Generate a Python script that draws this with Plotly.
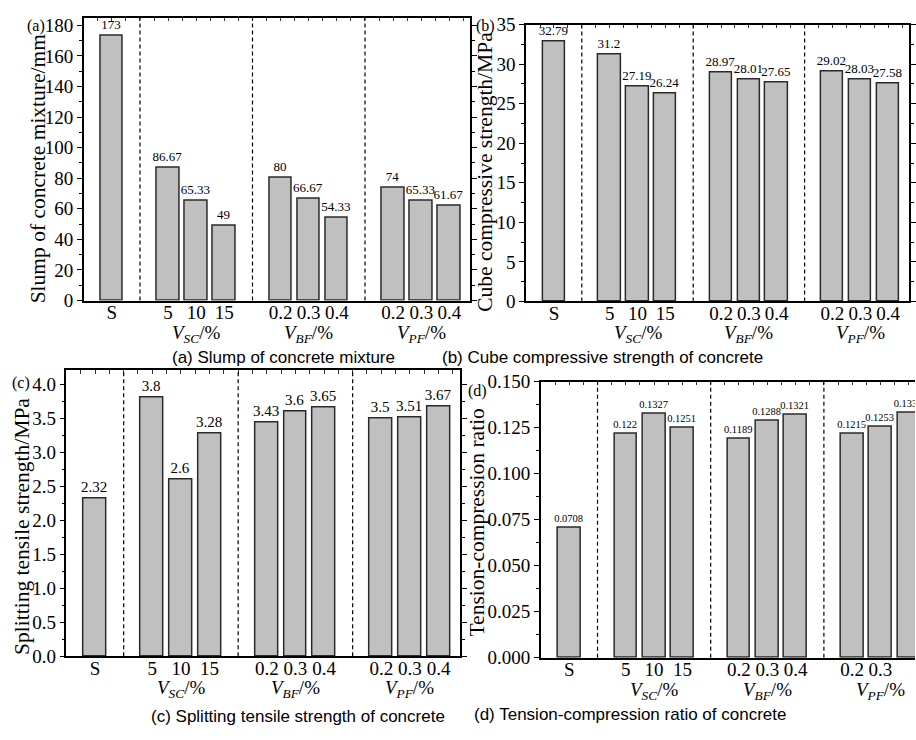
import plotly.graph_objects as go

# ---------------- data ----------------
control_label = ["S"]
sc_levels = ["5", "10", "15"]
bf_levels = ["0.2", "0.3", "0.4"]
pf_levels = ["0.2", "0.3", "0.4"]
group_titles = ["<i>V</i><sub><i>SC</i></sub>/%",
                "<i>V</i><sub><i>BF</i></sub>/%",
                "<i>V</i><sub><i>PF</i></sub>/%"]

slump = [173, 86.67, 65.33, 49, 80, 66.67, 54.33, 74, 65.33, 61.67]
cube_strength = [32.79, 31.2, 27.19, 26.24, 28.97, 28.01, 27.65, 29.02, 28.03, 27.58]
split_strength = [2.32, 3.8, 2.6, 3.28, 3.43, 3.6, 3.65, 3.5, 3.51, 3.67]
tc_ratio = [0.0708, 0.122, 0.1327, 0.1251, 0.1189, 0.1288, 0.1321, 0.1215, 0.1253, 0.1331]

y_titles = ["Slump of concrete mixture/mm", "Cube compressive strength/MPa",
            "Splitting tensile strength/MPa", "Tension-compression ratio"]
captions = ["(a) Slump of concrete mixture", "(b) Cube compressive strength of concrete",
            "(c) Splitting tensile strength of concrete", "(d) Tension-compression ratio of concrete"]
panel_tags = ["(a)", "(b)", "(c)", "(d)"]

# ---------------- positions of categories ----------------
groups = [sc_levels, bf_levels, pf_levels]
positions = [0]
tick_text = list(control_label)
separators = []
group_centers = []
for g, lev in enumerate(groups):
    start = 2 + 4 * g
    separators.append(start - 1)
    for k, t in enumerate(lev):
        positions.append(start + k)
        tick_text.append(t)
    group_centers.append(start + (len(lev) - 1) / 2)

W, H = 916, 740
SERIF = "Liberation Serif, Times New Roman, serif"
SANS = "Liberation Sans, Arial, sans-serif"

panels = [
    dict(vals=slump, box=(83.8, 471.0, 8, 299), yr=[0, 185], dtick=20, minor=10, fmt="d",
         xr=[-1, 12.75], tsize=13, mirror_y="ticks",
         ytitle_xy=(38, 163), tag_xy=(36, 16), cap_xy=(284, 358)),
    dict(vals=cube_strength, box=(526.7, 910.0, 15, 300), yr=[0, 35], dtick=5, minor=2.5, fmt="d",
         xr=[-1, 12.75], tsize=13, mirror_y="ticks",
         ytitle_xy=(486, 166), tag_xy=(486, 16), cap_xy=(603, 358)),
    dict(vals=split_strength, box=(66.5, 460.5, 371, 665), yr=[0, 4.2], dtick=0.5, minor=0.25,
         fmt=".1f", xr=[-1, 12.75], tsize=15, mirror_y="ticks",
         ytitle_xy=(22, 531), tag_xy=(21, 384), cap_xy=(298, 727)),
    dict(vals=tc_ratio, box=(541.5, 916.0, 382.5, 666.7), yr=[0, 0.15], dtick=0.025,
         minor=0.0125, fmt=".3f", xr=[-1, (916.0 - 541.5) / 28.33 - 1], tsize=10.5,
         mirror_y=False,
         ytitle_xy=(478, 527), tag_xy=(478, 392), cap_xy=(631, 725)),
]

fig = go.Figure()
annotations = []
shapes = []

for i, p in enumerate(panels):
    n = i + 1
    xa = "x" if n == 1 else f"x{n}"
    ya = "y" if n == 1 else f"y{n}"
    l, r, t, b = p["box"]
    xdom = [l / W, min(r / W, 1.0)]
    ydom = [1 - b / H, 1 - t / H]

    fig.add_trace(go.Bar(
        x=positions, y=p["vals"], width=0.8,
        marker=dict(color="#c0c0c0", line=dict(color="#2a2a2a", width=1.5)),
        text=[f"{v:g}" for v in p["vals"]], textposition="outside",
        textangle=0, constraintext="none", cliponaxis=True,
        textfont=dict(family=SERIF, size=p["tsize"], color="black"),
        xaxis=xa, yaxis=ya, showlegend=False, hoverinfo="skip"))

    # overlay axis for inward ticks at the top border
    ox = f"x{n + 4}"
    fig.add_trace(go.Scatter(x=[None], y=[None], xaxis=ox, yaxis=ya, showlegend=False,
                             mode="markers", hoverinfo="skip"))

    fig.update_layout(**{
        ("xaxis" if n == 1 else f"xaxis{n}"): dict(
            domain=xdom, anchor=ya, range=p["xr"], tickmode="array",
            tickvals=positions, ticktext=tick_text, ticks="",
            ticklabelstandoff=-6,
            showline=True, linecolor="black", linewidth=1.5, mirror=True,
            showgrid=False, zeroline=False, fixedrange=True,
            tickfont=dict(family=SERIF, size=19, color="black")),
        ("yaxis" if n == 1 else f"yaxis{n}"): dict(
            domain=ydom, anchor=xa, range=p["yr"], dtick=p["dtick"], tick0=0,
            tickformat=p["fmt"],
            ticks="outside", ticklen=5, tickwidth=1.2, tickcolor="black",
            minor=dict(dtick=p["minor"], ticks="outside", ticklen=3, tickwidth=1,
                       tickcolor="black", showgrid=False),
            showline=True, linecolor="black", linewidth=1.5, mirror=p["mirror_y"],
            showgrid=False, zeroline=False, fixedrange=True,
            tickfont=dict(family=SERIF, size=19, color="black")),
        f"xaxis{n + 4}": dict(
            overlaying=xa, anchor=ya, side="top", range=p["xr"], tick0=0, dtick=0.5,
            ticks="inside", ticklen=3.5, tickwidth=1, tickcolor="#333333",
            showticklabels=False, showline=False, showgrid=False, zeroline=False,
            fixedrange=True),
    })

    # group separators
    for s in separators:
        shapes.append(dict(type="line", xref=xa, yref=f"{ya} domain", x0=s, x1=s,
                           y0=0, y1=1, line=dict(color="black", width=1.2, dash="4px,3px")))

    # group labels under the axis
    for gc, gt in zip(group_centers, group_titles):
        annotations.append(dict(x=gc, y=0, xref=xa, yref=f"{ya} domain", text=gt,
                                showarrow=False, yanchor="middle", yshift=-33,
                                font=dict(family=SERIF, size=19, color="black")))

    # y-axis title
    tx, ty = p["ytitle_xy"]
    annotations.append(dict(x=tx / W, y=1 - ty / H, xref="paper", yref="paper",
                            text=y_titles[i], textangle=-90, showarrow=False,
                            xanchor="center", yanchor="middle",
                            font=dict(family=SERIF, size=21.5, color="black")))
    # panel tag
    gx, gy = p["tag_xy"]
    annotations.append(dict(x=gx / W, y=1 - gy / H, xref="paper", yref="paper",
                            text=panel_tags[i], showarrow=False,
                            xanchor="center", yanchor="middle",
                            font=dict(family=SERIF, size=16, color="black")))
    # caption
    cx, cy = p["cap_xy"]
    annotations.append(dict(x=cx / W, y=1 - cy / H, xref="paper", yref="paper",
                            text=captions[i], showarrow=False,
                            xanchor="center", yanchor="middle",
                            font=dict(family=SANS, size=17, color="black")))

fig.update_layout(width=W, height=H, margin=dict(l=0, r=0, t=0, b=0),
                  paper_bgcolor="white", plot_bgcolor="white",
                  annotations=annotations, shapes=shapes, bargap=0)

fig.write_html("out.html", config={"displayModeBar": False},
               post_script="document.body.style.margin='0';document.body.style.overflow='hidden';")
